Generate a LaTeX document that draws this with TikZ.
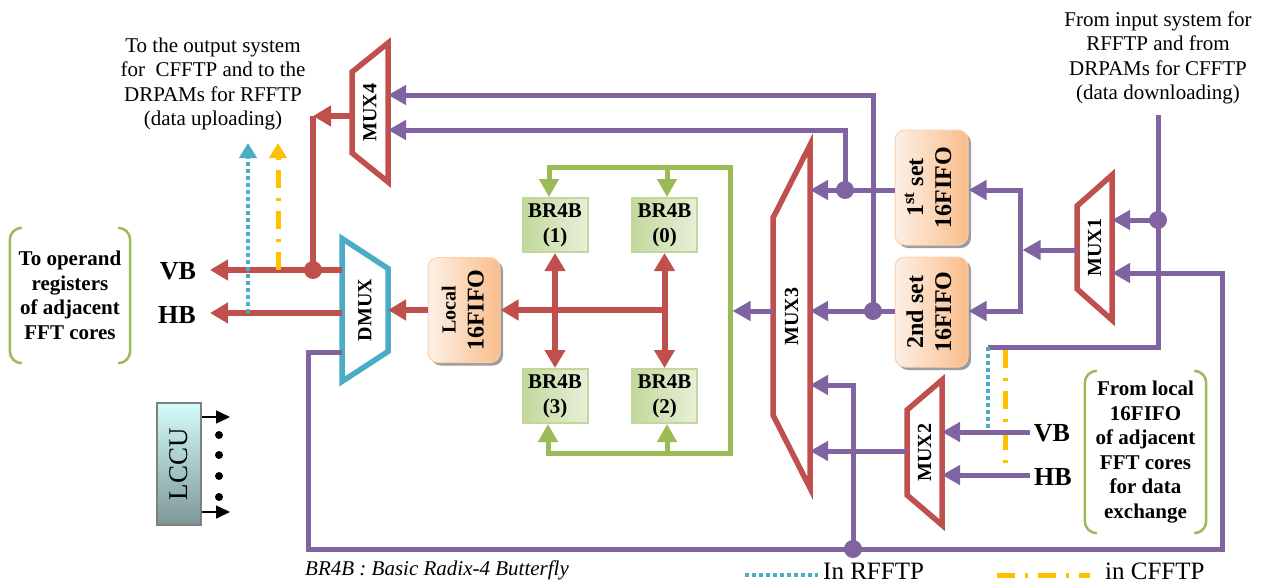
\documentclass[tikz,border=0pt]{standalone}
\usepackage{fontspec}
\setmainfont{Liberation Serif}
\usetikzlibrary{arrows.meta, calc, shadows}

\definecolor{muxred}{HTML}{C0504D}
\definecolor{buspurple}{HTML}{8064A2}
\definecolor{loopgreen}{HTML}{9BBB59}
\definecolor{dmuxcyan}{HTML}{4BACC6}
\definecolor{cfyellow}{HTML}{FFC000}
\definecolor{fifolight}{HTML}{FDF0E6}
\definecolor{fifodark}{HTML}{F9BD8A}
\definecolor{brlight}{HTML}{E8F0D9}
\definecolor{brdark}{HTML}{C2D89C}
\definecolor{brborder}{HTML}{C3D69B}
\definecolor{lcculight}{HTML}{D3FCFC}
\definecolor{lccudark}{HTML}{7D9796}

\tikzset{
    my-mux/.style={
        draw=muxred, line width=5.5pt
    },
    my-dmux/.style={
        draw=dmuxcyan, line width=5.5pt
    },
    my-mux-label/.style={
        rotate=90, inner sep=0pt, font=\fontsize{20}{24}\selectfont\bfseries
    },
    my-fifo/.style={
        rounded corners=10pt, minimum width=73pt, inner sep=0pt,
        left color=fifolight, right color=fifodark, draw=fifodark!70!white, line width=1pt,
        drop shadow={shadow xshift=3pt, shadow yshift=-3pt, fill=black!55, opacity=0.7},
        font=\fontsize{24}{28}\selectfont\bfseries
    },
    my-br4b/.style={
        draw=brborder, line width=2pt, left color=brdark, right color=brlight,
        minimum width=65pt, minimum height=54pt, inner sep=0pt, align=center,
        font=\fontsize{21}{25}\selectfont\bfseries
    },
    my-bracket-text/.style={
        align=center, inner sep=0pt, font=\fontsize{21}{24.5}\selectfont\bfseries
    },
    my-bracket/.style={
        draw=loopgreen, line width=2.5pt, rounded corners=12pt
    },
    my-plain-text/.style={
        align=center, inner sep=0pt, font=\fontsize{21}{24.5}\selectfont
    },
    my-bus-label/.style={
        inner sep=0pt, font=\fontsize{26}{30}\selectfont\bfseries
    },
    my-red/.style={
        draw=muxred, line width=6pt
    },
    my-red-arrow/.style={
        my-red, -{Triangle[length=18pt, width=20pt]}
    },
    my-red-both/.style={
        my-red, {Triangle[length=18pt, width=20pt]}-{Triangle[length=18pt, width=20pt]}
    },
    my-purple/.style={
        draw=buspurple, line width=5pt
    },
    my-purple-arrow/.style={
        my-purple, -{Triangle[length=18pt, width=19pt]}
    },
    my-green-both/.style={
        draw=loopgreen, line width=5pt,
        {Triangle[length=18pt, width=19pt]}-{Triangle[length=18pt, width=19pt]}
    },
    my-green-arrow/.style={
        draw=loopgreen, line width=5pt, -{Triangle[length=18pt, width=19pt]}
    },
    my-rfftp/.style={
        draw=dmuxcyan, line width=4pt, dash pattern=on 4pt off 3pt
    },
    my-cfftp/.style={
        draw=cfyellow, line width=5pt, dash pattern=on 18pt off 10pt on 3pt off 10pt
    },
    my-branch-red/.style={
        fill=muxred, shape=circle, minimum size=18pt, inner sep=0pt
    },
    my-branch-purple/.style={
        fill=buspurple, shape=circle, minimum size=18pt, inner sep=0pt
    },
    my-ctrl-arrow/.style={
        draw=black, line width=1.5pt, -{Triangle[length=14pt, width=13pt]}
    },
}

\begin{document}
\begin{tikzpicture}[x=1pt, y=-1pt]

    \useasboundingbox (0,0) rectangle (1261,584);

    % TEXTS AT THE TOP
    \node[my-plain-text] (OUTTXT) at (213,84) {To the output system\\for\ \ CFFTP and to the\\DRPAMs for RFFTP\\(data uploading)};
    \node[my-plain-text] (INTXT)  at (1158,58) {From input system for\\RFFTP and from\\DRPAMs for CFFTP\\(data downloading)};

    % BRACKETED TEXTS
    \node[my-bracket-text, minimum width=120pt, minimum height=135pt] (OPREG) at (70,295.5) {To operand\\registers\\of adjacent\\FFT cores};
    \draw[my-bracket] ($(OPREG.north west)+(12,0)$) -| (OPREG.south west) -- ++(12,0);
    \draw[my-bracket] ($(OPREG.north east)+(-12,0)$) -| (OPREG.south east) -- ++(-12,0);

    \node[my-bracket-text, minimum width=121pt, minimum height=162pt] (FROMLOC) at (1145.5,452) {From local\\16FIFO\\of adjacent\\FFT cores\\for data\\exchange};
    \draw[my-bracket] ($(FROMLOC.north west)+(12,0)$) -| (FROMLOC.south west) -- ++(12,0);
    \draw[my-bracket] ($(FROMLOC.north east)+(-12,0)$) -| (FROMLOC.south east) -- ++(-12,0);

    % DMUX AND CONNECTOR POINTS
    \node[my-mux-label] (DMUX) at (365,310) {DMUX};
    \draw[my-dmux] ($(DMUX)+(-23,-71.5)$) -- ($(DMUX)+(23,-41.5)$) -- ($(DMUX)+(23,41.5)$) -- ($(DMUX)+(-23,71.5)$) -- cycle;
    \coordinate (DMUXIN)  at ($(DMUX)+(23,0)$);
    \coordinate (DMUXVB)  at ($(DMUX)+(-23,-40)$);
    \coordinate (DMUXHB)  at ($(DMUX)+(-23,3)$);
    \coordinate (DMUXOUT) at ($(DMUX)+(-23,42)$);

    % MUX4
    \node[my-mux-label] (MUX4) at (370,112.5) {MUX4};
    \draw[my-mux] ($(MUX4)+(-18,-40.5)$) -- ($(MUX4)+(18,-69.5)$) -- ($(MUX4)+(18,69.5)$) -- ($(MUX4)+(-18,40.5)$) -- cycle;
    \coordinate (MUX4IN1) at ($(MUX4)+(18,-17.5)$);
    \coordinate (MUX4IN2) at ($(MUX4)+(18,17.5)$);
    \coordinate (MUX4OUT) at ($(MUX4)+(-18,3.5)$);

    % MUX3
    \node[my-mux-label] (MUX3) at (791.5,316.5) {MUX3};
    \draw[my-mux] ($(MUX3)+(-18.5,-98.5)$) -- ($(MUX3)+(18.5,-171.5)$) -- ($(MUX3)+(18.5,171.5)$) -- ($(MUX3)+(-18.5,98.5)$) -- cycle;
    \coordinate (MUX3IN1) at ($(MUX3)+(18.5,-126.5)$);
    \coordinate (MUX3IN2) at ($(MUX3)+(18.5,-5.5)$);
    \coordinate (MUX3IN3) at ($(MUX3)+(18.5,68.5)$);
    \coordinate (MUX3IN4) at ($(MUX3)+(18.5,134.5)$);
    \coordinate (MUX3OUT) at ($(MUX3)+(-18.5,-5.5)$);

    % MUX1
    \node[my-mux-label] (MUX1) at (1094.5,247.5) {MUX1};
    \draw[my-mux] ($(MUX1)+(-17.5,-41.5)$) -- ($(MUX1)+(17.5,-72.5)$) -- ($(MUX1)+(17.5,72.5)$) -- ($(MUX1)+(-17.5,41.5)$) -- cycle;
    \coordinate (MUX1IN1) at ($(MUX1)+(17.5,-27.5)$);
    \coordinate (MUX1IN2) at ($(MUX1)+(17.5,25.5)$);
    \coordinate (MUX1OUT) at ($(MUX1)+(-17.5,2.5)$);

    % MUX2
    \node[my-mux-label] (MUX2) at (924.5,452.5) {MUX2};
    \draw[my-mux] ($(MUX2)+(-17.5,-42.5)$) -- ($(MUX2)+(17.5,-72.5)$) -- ($(MUX2)+(17.5,72.5)$) -- ($(MUX2)+(-17.5,42.5)$) -- cycle;
    \coordinate (MUX2IN1) at ($(MUX2)+(17.5,-20.5)$);
    \coordinate (MUX2IN2) at ($(MUX2)+(17.5,22.5)$);
    \coordinate (MUX2OUT) at ($(MUX2)+(-17.5,-1.5)$);

    % FIFOS
    \node[my-fifo, minimum width=72pt, minimum height=105pt] (LFIFO) at (464,310) {\rotatebox{90}{\begin{tabular}{@{}c@{}}{\fontsize{20}{24}\selectfont Local}\\16FIFO\end{tabular}}};
    \node[my-fifo, minimum height=115pt] (FIFO1) at (931.5,187.5) {\rotatebox{90}{\begin{tabular}{@{}c@{}}1\textsuperscript{st} set\\16FIFO\end{tabular}}};
    \node[my-fifo, minimum height=110pt] (FIFO2) at (931.5,312) {\rotatebox{90}{\begin{tabular}{@{}c@{}}2nd set\\16FIFO\end{tabular}}};

    % BUTTERFLIES
    \node[my-br4b] (BR1) at (555,225)   {BR4B\\(1)};
    \node[my-br4b] (BR0) at (664.5,225) {BR4B\\(0)};
    \node[my-br4b] (BR3) at (555,396)   {BR4B\\(3)};
    \node[my-br4b] (BR2) at (664.5,396) {BR4B\\(2)};

    % LCCU
    \node[draw=black!50, line width=2pt, top color=lcculight, bottom color=lccudark,
          minimum width=44pt, minimum height=122pt, inner sep=0pt] (LCCU) at (179,464)
          {\rotatebox{90}{\fontsize{27}{30}\selectfont LCCU}};
    \draw[my-ctrl-arrow] ($(LCCU.east)+(0,-47)$) -- ++(28,0);
    \draw[my-ctrl-arrow] ($(LCCU.east)+(0,48)$)  -- ++(28,0);
    \foreach \y in {435,455,476,497}
        \fill ($(LCCU.east |- 0,\y)+(17,0)$) circle (4pt);

    % BUS LABELS
    \coordinate (VBTIP) at ($(DMUXVB)+(-132,0)$);
    \coordinate (HBTIP) at ($(DMUXHB)+(-132,0)$);
    \node[my-bus-label] (VBL) at ($(VBTIP)+(-32,1)$) {VB};
    \node[my-bus-label] (HBL) at ($(HBTIP)+(-33,2)$) {HB};
    \node[my-bus-label] (VBR) at ($(MUX2IN1)+(110,1)$) {VB};
    \node[my-bus-label] (HBR) at ($(MUX2IN2)+(111,2)$) {HB};

    % RED CONNECTIONS
    \node[my-branch-red] (VBJ) at ($(DMUXVB)+(-29,0)$) {};
    \coordinate (MUX4CORNER) at (VBJ.center |- MUX4OUT);
    \draw[my-red] (MUX4CORNER) -- (VBJ.center);
    \draw[my-red-arrow] (MUX4OUT) -- (MUX4CORNER);
    \draw[my-red-arrow] (DMUXVB) -- (VBTIP);
    \draw[my-red-arrow] (DMUXHB) -- (HBTIP);
    \draw[my-red-arrow] (LFIFO.west) -- (DMUXIN);
    \draw[my-red-arrow] (BR0.south |- LFIFO.east) -- (LFIFO.east);
    \draw[my-red-both] (BR1.south) -- (BR3.north);
    \draw[my-red-both] (BR0.south) -- (BR2.north);

    % GREEN LOOP
    \coordinate (GTL) at (549,167);
    \coordinate (GTR) at (730,167);
    \coordinate (GBR) at (730,453);
    \coordinate (GBL) at (548,453);
    \draw[my-green-both] (GTL |- BR1.north) -- (GTL) -- (GTR) -- (GBR) -- (GBL) -- (GBL |- BR3.south);
    \draw[my-green-arrow] ($(BR0.north |- GTL)+(2.5,0)$) -- ($(BR0.north)+(2.5,0)$);
    \draw[my-green-arrow] ($(BR2.south |- GBL)+(2.5,0)$) -- ($(BR2.south)+(2.5,0)$);

    % PURPLE CONNECTIONS - FIFOS TO MUX3 AND MUX4
    \draw[my-purple-arrow, shorten >=2.5pt] (MUX3OUT) -- (MUX3OUT -| GTR);
    \draw[my-purple-arrow] (FIFO1.west |- MUX3IN1) -- (MUX3IN1);
    \draw[my-purple-arrow] (FIFO2.west |- MUX3IN2) -- (MUX3IN2);
    \node[my-branch-purple] (J1) at ($(MUX3IN1)+(35,0)$) {};
    \node[my-branch-purple] (J2) at ($(MUX3IN2)+(63,0)$) {};
    \draw[my-purple-arrow] (J1.center) -- (J1.center |- MUX4IN2) -- (MUX4IN2);
    \draw[my-purple-arrow] (J2.center) -- (J2.center |- MUX4IN1) -- (MUX4IN1);

    % PURPLE CONNECTIONS - MUX1 TO FIFOS
    \coordinate (SPLIT) at ($(MUX1OUT)+(-57,0)$);
    \draw[my-purple-arrow, shorten >=2.5pt] (MUX1OUT) -- (SPLIT);
    \draw[my-purple-arrow] (SPLIT) -- (SPLIT |- MUX3IN1) -- (FIFO1.east |- MUX3IN1);
    \draw[my-purple-arrow] (SPLIT) -- (SPLIT |- MUX3IN2) -- (FIFO2.east |- MUX3IN2);

    % PURPLE CONNECTIONS - INPUT SYSTEM
    \coordinate (INTOP)  at (1158,115);
    \coordinate (MODESW) at (988,347);
    \draw[my-purple] (INTOP) -- (INTOP |- MODESW) -- (MODESW);
    \node[my-branch-purple] (J3) at (INTOP |- MUX1IN1) {};
    \draw[my-purple-arrow] (J3.center) -- (MUX1IN1);
    \draw[my-rfftp] (MODESW) -- (MODESW |- MUX2IN1);
    \draw[my-cfftp] ($(MODESW)+(17,2.5)$) -- ($(MODESW |- MUX2IN2)+(17,-3)$);

    % PURPLE CONNECTIONS - MUX2
    \draw[my-purple-arrow] ($(VBR.west |- MUX2IN1)+(-4,0)$) -- (MUX2IN1);
    \draw[my-purple-arrow] ($(HBR.west |- MUX2IN2)+(-4,0)$) -- (MUX2IN2);
    \draw[my-purple-arrow] (MUX2OUT) -- (MUX3IN4);

    % PURPLE CONNECTIONS - DMUX LOOP
    \coordinate (LOOPBL) at (308,549);
    \coordinate (LOOPBR) at (1222,549);
    \draw[my-purple-arrow] (DMUXOUT) -- (LOOPBL |- DMUXOUT) -- (LOOPBL) -- (LOOPBR) -- (LOOPBR |- MUX1IN2) -- (MUX1IN2);
    \node[my-branch-purple] (J4) at ($(LOOPBL)+(545,0)$) {};
    \draw[my-purple-arrow] (J4.center) -- (J4.center |- MUX3IN3) -- (MUX3IN3);

    % OUTPUT SYSTEM PATHS
    \draw[my-rfftp, -{Triangle[length=15pt, width=17pt]}] ($(DMUXHB)+(-94,0)$) -- ($(DMUXHB)+(-94,-170)$);
    \draw[my-cfftp, -{Triangle[length=15pt, width=17pt]}] ($(DMUXVB)+(-64,0)$) -- ($(DMUXVB)+(-64,-127)$);

    % NOTE AND LEGEND
    \node[anchor=west, inner sep=0pt, font=\fontsize{21}{24}\selectfont\itshape] (NOTE) at (305,570) {BR4B : Basic Radix-4 Butterfly};
    \coordinate (LEGR) at (745,575);
    \coordinate (LEGC) at (997,575);
    \draw[my-rfftp] (LEGR) -- ++(73,0);
    \draw[my-cfftp] (LEGC) -- ++(93,0);
    \node[anchor=west, inner sep=0pt, font=\fontsize{25}{28}\selectfont] (LEGRTXT) at ($(LEGR)+(78,-4)$) {In RFFTP};
    \node[anchor=west, inner sep=0pt, font=\fontsize{25}{28}\selectfont] (LEGCTXT) at ($(LEGC)+(108,-4)$) {in CFFTP};

\end{tikzpicture}
\end{document}
